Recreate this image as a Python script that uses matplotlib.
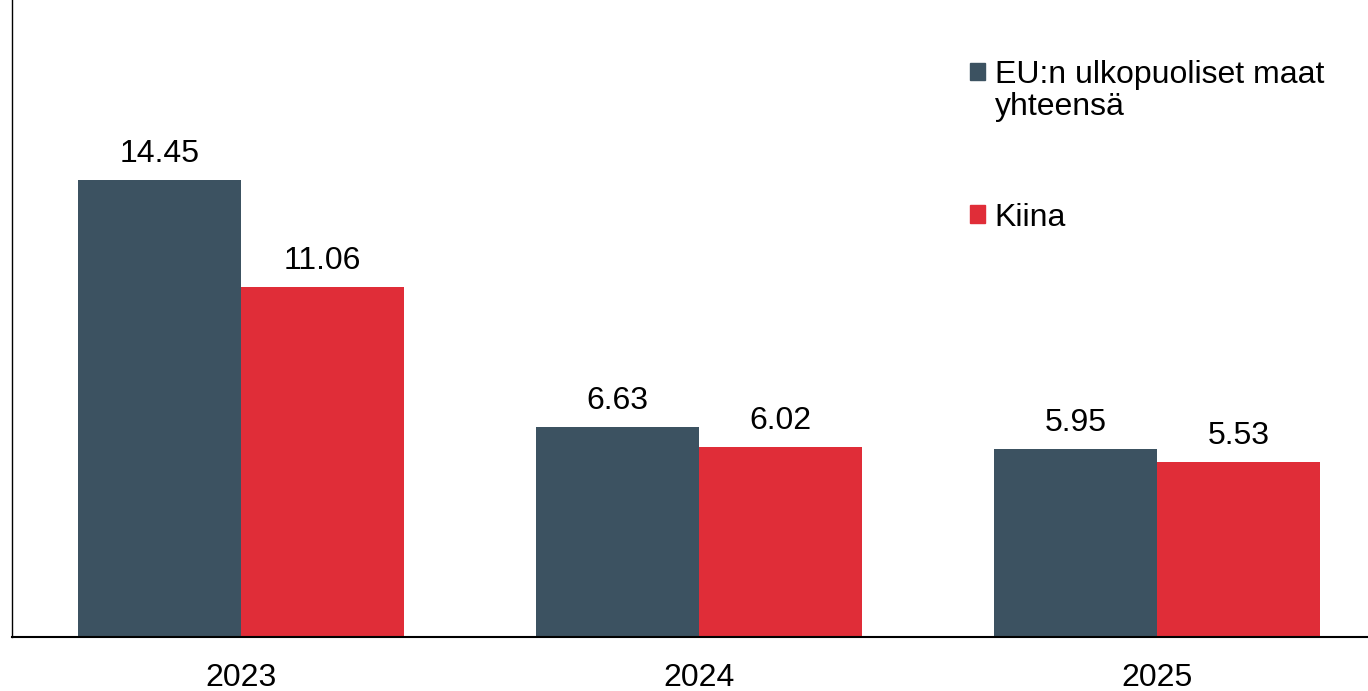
import matplotlib.pyplot as plt
import numpy as np
from matplotlib.patches import Patch, Rectangle
from matplotlib.legend_handler import HandlerPatch

plt.rcParams['font.family'] = ['Liberation Sans', 'DejaVu Sans']

years = ['2023', '2024', '2025']
eu_ulko = [14.45, 6.63, 5.95]
kiina = [11.06, 6.02, 5.53]
sarjat = ['EU:n ulkopuoliset maat\nyhteensä', 'Kiina']
varit = ['#3C5261', '#E02D38']

fig = plt.figure(figsize=(13.68, 6.91), dpi=100)
ax = fig.add_axes([0.0088, 0.078, 0.9912, 0.922])

x = np.arange(len(years))
w = 0.356
b1 = ax.bar(x - w / 2, eu_ulko, w, color=varit[0])
b2 = ax.bar(x + w / 2, kiina, w, color=varit[1])

for bars, vals in [(b1, eu_ulko), (b2, kiina)]:
    ax.bar_label(bars, labels=[f'{v:.2f}' for v in vals], padding=8, fontsize=23)

ax.set_xlim(-0.5, 2.46)
ax.set_ylim(0, 20.14)
ax.set_xticks(x)
ax.set_xticklabels(years, fontsize=23)
ax.tick_params(axis='x', length=0, pad=19)
ax.set_yticks([])
for s in ['top', 'right']:
    ax.spines[s].set_visible(False)
ax.spines['left'].set_linewidth(1)
ax.spines['bottom'].set_linewidth(1.5)


# neliö ylimmän rivin kohdalle
def ylos(legend, orig_handle, xdescent, ydescent, width, height, fontsize):
    return Rectangle((-xdescent, -ydescent + 0.62 * fontsize), width, height)


handles = [Patch(color=c) for c in varit]
leg = ax.legend(handles, sarjat, loc='upper left', bbox_to_anchor=(0.697, 0.926),
                frameon=False, fontsize=23, handlelength=0.48, handleheight=0.48,
                handletextpad=0.3, labelspacing=2.52, borderaxespad=0,
                handler_map={handles[0]: HandlerPatch(patch_func=ylos)})
for t in leg.get_texts():
    t.set_linespacing(1.1)

fig.savefig('out.png', dpi=100)
